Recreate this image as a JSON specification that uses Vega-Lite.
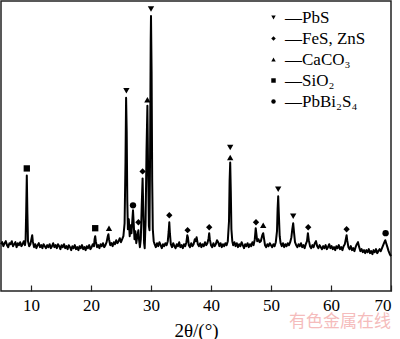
{
  "$schema": "https://vega.github.io/schema/vega-lite/v6.json",
  "width": 390,
  "height": 290,
  "autosize": "none",
  "padding": {"left": 1, "top": 1, "right": 9, "bottom": 48},
  "background": "white",
  "config": {
    "view": {"stroke": "#222", "strokeWidth": 1.5},
    "font": "Liberation Serif",
    "axis": {"labelFont": "Liberation Serif", "titleFont": "Liberation Serif"}
  },
  "datasets": {
    "xrd": [
      {"t":5.0,"i":47},{"t":5.2,"i":49},{"t":5.4,"i":45},{"t":5.6,"i":48},{"t":5.8,"i":50},{"t":6.0,"i":46},{"t":6.2,"i":44},{"t":6.4,"i":48},{"t":6.6,"i":47},{"t":6.8,"i":50},
      {"t":7.0,"i":45},{"t":7.2,"i":47},{"t":7.4,"i":49},{"t":7.6,"i":44},{"t":7.8,"i":48},{"t":8.0,"i":46},{"t":8.2,"i":49},{"t":8.4,"i":45},{"t":8.6,"i":47},{"t":8.8,"i":50},
      {"t":9.0,"i":46},{"t":9.1,"i":51},{"t":9.2,"i":80},{"t":9.3,"i":116},{"t":9.4,"i":78},{"t":9.5,"i":50},{"t":9.7,"i":45},{"t":9.9,"i":47},{"t":10.1,"i":53},{"t":10.2,"i":56},
      {"t":10.3,"i":50},{"t":10.5,"i":44},{"t":10.7,"i":47},{"t":10.9,"i":43},{"t":11.1,"i":46},{"t":11.3,"i":48},{"t":11.5,"i":44},{"t":11.7,"i":46},{"t":11.9,"i":43},{"t":12.1,"i":47},
      {"t":12.3,"i":45},{"t":12.5,"i":43},{"t":12.7,"i":46},{"t":12.9,"i":44},{"t":13.1,"i":47},{"t":13.3,"i":43},{"t":13.5,"i":45},{"t":13.7,"i":48},{"t":13.9,"i":44},{"t":14.1,"i":46},
      {"t":14.3,"i":43},{"t":14.5,"i":47},{"t":14.7,"i":45},{"t":14.9,"i":42},{"t":15.1,"i":46},{"t":15.3,"i":44},{"t":15.5,"i":47},{"t":15.7,"i":43},{"t":15.9,"i":45},{"t":16.1,"i":42},
      {"t":16.3,"i":46},{"t":16.5,"i":44},{"t":16.7,"i":41},{"t":16.9,"i":45},{"t":17.1,"i":43},{"t":17.3,"i":46},{"t":17.5,"i":42},{"t":17.7,"i":44},{"t":17.9,"i":41},{"t":18.1,"i":45},
      {"t":18.3,"i":43},{"t":18.5,"i":46},{"t":18.7,"i":42},{"t":18.9,"i":44},{"t":19.1,"i":41},{"t":19.3,"i":45},{"t":19.5,"i":43},{"t":19.7,"i":46},{"t":19.9,"i":42},{"t":20.1,"i":44},
      {"t":20.3,"i":47},{"t":20.5,"i":45},{"t":20.6,"i":52},{"t":20.7,"i":55},{"t":20.8,"i":50},{"t":21.0,"i":44},{"t":21.2,"i":46},{"t":21.4,"i":43},{"t":21.6,"i":47},{"t":21.8,"i":45},
      {"t":22.0,"i":48},{"t":22.2,"i":44},{"t":22.4,"i":46},{"t":22.6,"i":49},{"t":22.8,"i":55},{"t":22.9,"i":57},{"t":23.0,"i":52},{"t":23.2,"i":46},{"t":23.4,"i":48},{"t":23.6,"i":45},
      {"t":23.8,"i":49},{"t":24.0,"i":47},{"t":24.2,"i":51},{"t":24.4,"i":48},{"t":24.6,"i":50},{"t":24.8,"i":53},{"t":25.0,"i":49},{"t":25.2,"i":52},{"t":25.4,"i":55},{"t":25.6,"i":68},
      {"t":25.75,"i":130},{"t":25.85,"i":194},{"t":25.95,"i":160},{"t":26.05,"i":90},{"t":26.15,"i":62},{"t":26.3,"i":72},{"t":26.45,"i":55},{"t":26.6,"i":66},{"t":26.75,"i":58},{"t":26.9,"i":72},
      {"t":27.0,"i":81},{"t":27.1,"i":70},{"t":27.25,"i":52},{"t":27.4,"i":60},{"t":27.55,"i":48},{"t":27.75,"i":56},{"t":27.9,"i":61},{"t":28.0,"i":52},{"t":28.15,"i":44},{"t":28.3,"i":52},
      {"t":28.45,"i":85},{"t":28.6,"i":113},{"t":28.7,"i":85},{"t":28.85,"i":48},{"t":28.95,"i":43},{"t":29.1,"i":70},{"t":29.25,"i":140},{"t":29.4,"i":186},{"t":29.5,"i":130},{"t":29.65,"i":65},
      {"t":29.75,"i":61},{"t":29.85,"i":140},{"t":29.95,"i":250},{"t":30.0,"i":276},{"t":30.1,"i":220},{"t":30.2,"i":110},{"t":30.3,"i":62},{"t":30.45,"i":50},{"t":30.6,"i":47},{"t":30.8,"i":44},
      {"t":31.0,"i":48},{"t":31.2,"i":45},{"t":31.4,"i":49},{"t":31.6,"i":46},{"t":31.8,"i":43},{"t":32.0,"i":47},{"t":32.2,"i":45},{"t":32.4,"i":48},{"t":32.6,"i":46},{"t":32.8,"i":50},
      {"t":32.95,"i":60},{"t":33.05,"i":69},{"t":33.15,"i":58},{"t":33.3,"i":47},{"t":33.5,"i":44},{"t":33.7,"i":48},{"t":33.9,"i":45},{"t":34.1,"i":43},{"t":34.3,"i":47},{"t":34.5,"i":45},
      {"t":34.7,"i":49},{"t":34.9,"i":44},{"t":35.1,"i":46},{"t":35.3,"i":43},{"t":35.5,"i":47},{"t":35.7,"i":45},{"t":35.9,"i":49},{"t":36.05,"i":56},{"t":36.15,"i":54},{"t":36.3,"i":46},
      {"t":36.5,"i":44},{"t":36.7,"i":48},{"t":36.9,"i":45},{"t":37.1,"i":47},{"t":37.3,"i":52},{"t":37.45,"i":50},{"t":37.6,"i":54},{"t":37.8,"i":47},{"t":38.0,"i":45},{"t":38.2,"i":48},
      {"t":38.4,"i":44},{"t":38.6,"i":47},{"t":38.8,"i":45},{"t":39.0,"i":49},{"t":39.2,"i":46},{"t":39.4,"i":48},{"t":39.6,"i":53},{"t":39.7,"i":58},{"t":39.8,"i":52},{"t":40.0,"i":46},
      {"t":40.2,"i":44},{"t":40.4,"i":48},{"t":40.6,"i":45},{"t":40.8,"i":47},{"t":41.0,"i":51},{"t":41.2,"i":49},{"t":41.4,"i":45},{"t":41.6,"i":48},{"t":41.8,"i":44},{"t":42.0,"i":47},
      {"t":42.2,"i":45},{"t":42.4,"i":48},{"t":42.6,"i":46},{"t":42.8,"i":50},{"t":43.0,"i":70},{"t":43.1,"i":110},{"t":43.2,"i":129},{"t":43.3,"i":100},{"t":43.4,"i":62},{"t":43.55,"i":50},
      {"t":43.7,"i":46},{"t":43.9,"i":49},{"t":44.1,"i":45},{"t":44.3,"i":48},{"t":44.5,"i":44},{"t":44.7,"i":47},{"t":44.9,"i":45},{"t":45.1,"i":49},{"t":45.3,"i":46},{"t":45.5,"i":43},
      {"t":45.7,"i":47},{"t":45.9,"i":45},{"t":46.1,"i":48},{"t":46.3,"i":44},{"t":46.5,"i":47},{"t":46.7,"i":45},{"t":46.9,"i":49},{"t":47.1,"i":46},{"t":47.3,"i":52},{"t":47.45,"i":63},
      {"t":47.55,"i":58},{"t":47.7,"i":50},{"t":47.9,"i":52},{"t":48.1,"i":49},{"t":48.3,"i":50},{"t":48.55,"i":56},{"t":48.7,"i":58},{"t":48.85,"i":52},{"t":49.0,"i":46},{"t":49.2,"i":44},
      {"t":49.4,"i":47},{"t":49.6,"i":45},{"t":49.8,"i":48},{"t":50.0,"i":46},{"t":50.2,"i":44},{"t":50.4,"i":47},{"t":50.6,"i":45},{"t":50.8,"i":49},{"t":51.0,"i":60},{"t":51.1,"i":82},
      {"t":51.2,"i":95},{"t":51.3,"i":78},{"t":51.45,"i":55},{"t":51.6,"i":48},{"t":51.8,"i":45},{"t":52.0,"i":48},{"t":52.2,"i":44},{"t":52.4,"i":47},{"t":52.6,"i":45},{"t":52.8,"i":48},
      {"t":53.0,"i":46},{"t":53.2,"i":49},{"t":53.4,"i":54},{"t":53.55,"i":62},{"t":53.7,"i":68},{"t":53.85,"i":58},{"t":54.0,"i":49},{"t":54.2,"i":46},{"t":54.4,"i":44},{"t":54.6,"i":47},
      {"t":54.8,"i":45},{"t":55.0,"i":48},{"t":55.2,"i":44},{"t":55.4,"i":46},{"t":55.6,"i":43},{"t":55.8,"i":47},{"t":56.0,"i":50},{"t":56.15,"i":58},{"t":56.3,"i":51},{"t":56.5,"i":45},
      {"t":56.7,"i":43},{"t":56.9,"i":46},{"t":57.1,"i":44},{"t":57.3,"i":48},{"t":57.5,"i":50},{"t":57.7,"i":45},{"t":57.9,"i":43},{"t":58.1,"i":46},{"t":58.3,"i":44},{"t":58.5,"i":42},
      {"t":58.7,"i":45},{"t":58.9,"i":43},{"t":59.1,"i":46},{"t":59.3,"i":42},{"t":59.5,"i":44},{"t":59.7,"i":47},{"t":59.9,"i":43},{"t":60.1,"i":45},{"t":60.3,"i":42},{"t":60.5,"i":44},
      {"t":60.7,"i":41},{"t":60.9,"i":45},{"t":61.1,"i":43},{"t":61.3,"i":46},{"t":61.5,"i":42},{"t":61.7,"i":44},{"t":61.9,"i":41},{"t":62.1,"i":45},{"t":62.3,"i":47},{"t":62.5,"i":53},
      {"t":62.6,"i":56},{"t":62.7,"i":51},{"t":62.9,"i":44},{"t":63.1,"i":42},{"t":63.3,"i":45},{"t":63.5,"i":41},{"t":63.7,"i":43},{"t":63.9,"i":40},{"t":64.1,"i":44},{"t":64.3,"i":47},
      {"t":64.5,"i":49},{"t":64.7,"i":44},{"t":64.9,"i":40},{"t":65.1,"i":42},{"t":65.3,"i":39},{"t":65.5,"i":41},{"t":65.7,"i":38},{"t":65.9,"i":41},{"t":66.1,"i":39},{"t":66.3,"i":42},
      {"t":66.5,"i":38},{"t":66.7,"i":40},{"t":66.9,"i":37},{"t":67.1,"i":41},{"t":67.3,"i":39},{"t":67.5,"i":42},{"t":67.7,"i":38},{"t":67.9,"i":40},{"t":68.1,"i":42},{"t":68.3,"i":40},
      {"t":68.5,"i":43},{"t":68.7,"i":46},{"t":68.9,"i":49},{"t":69.05,"i":51},{"t":69.2,"i":48},{"t":69.4,"i":44},{"t":69.6,"i":40},{"t":69.8,"i":37},{"t":70.0,"i":35}
    ],
    "marks": [
      {"t":9.3,"i":123,"phase":"SiO₂"},
      {"t":20.7,"i":63,"phase":"SiO₂"},
      {"t":23.0,"i":63,"phase":"CaCO₃"},
      {"t":25.9,"i":201,"phase":"PbS"},
      {"t":27.0,"i":86,"phase":"PbBi₂S₄"},
      {"t":27.9,"i":69,"phase":"FeS, ZnS"},
      {"t":28.6,"i":120,"phase":"FeS, ZnS"},
      {"t":29.4,"i":192,"phase":"CaCO₃"},
      {"t":30.0,"i":283,"phase":"PbS"},
      {"t":33.05,"i":76,"phase":"FeS, ZnS"},
      {"t":36.1,"i":61,"phase":"FeS, ZnS"},
      {"t":39.7,"i":64,"phase":"FeS, ZnS"},
      {"t":43.2,"i":134,"phase":"CaCO₃"},
      {"t":43.2,"i":144,"phase":"PbS"},
      {"t":47.5,"i":69,"phase":"FeS, ZnS"},
      {"t":48.7,"i":66,"phase":"CaCO₃"},
      {"t":51.2,"i":102,"phase":"PbS"},
      {"t":53.7,"i":75,"phase":"PbS"},
      {"t":56.2,"i":64,"phase":"FeS, ZnS"},
      {"t":62.6,"i":62,"phase":"FeS, ZnS"},
      {"t":69.1,"i":58,"phase":"PbBi₂S₄"}
    ]
  },
  "layer": [
    {
      "data": {"name": "xrd"},
      "mark": {"type": "line", "color": "black", "strokeWidth": 2, "strokeJoin": "round"},
      "encoding": {
        "x": {
          "field": "t", "type": "quantitative",
          "scale": {"domain": [5, 70], "nice": false, "zero": false},
          "axis": {
            "title": "2θ/(°)", "values": [10, 20, 30, 40, 50, 60, 70],
            "grid": false, "domain": false, "tickSize": -6, "tickColor": "#222", "tickWidth": 1.2,
            "labelFont": "Liberation Serif", "labelFontSize": 17, "labelColor": "black", "labelPadding": 12,
            "titleFont": "Liberation Serif", "titleFontSize": 19, "titleFontWeight": "normal", "titleColor": "black", "titlePadding": 8
          }
        },
        "y": {
          "field": "i", "type": "quantitative",
          "scale": {"domain": [0, 291], "nice": false},
          "axis": null
        }
      }
    },
    {
      "data": {"name": "marks"},
      "mark": {"type": "point", "filled": true, "opacity": 1, "color": "black", "size": 40},
      "encoding": {
        "x": {"field": "t", "type": "quantitative"},
        "y": {"field": "i", "type": "quantitative"},
        "shape": {
          "field": "phase", "type": "nominal",
          "scale": {
            "domain": ["PbS", "FeS, ZnS", "CaCO₃", "SiO₂", "PbBi₂S₄"],
            "range": ["triangle-down", "diamond", "triangle-up", "square", "circle"]
          },
          "legend": {
            "orient": "none", "legendX": 264, "legendY": 8, "title": null,
            "symbolSize": 20, "symbolFillColor": "black", "symbolStrokeColor": "black",
            "labelExpr": "'—' + datum.label",
            "labelFont": "Liberation Serif", "labelFontSize": 17, "labelColor": "black",
            "labelOffset": 3, "rowPadding": 3, "padding": 0
          }
        }
      }
    },
    {
      "data": {"values": [{"t": 61.5, "i": -31, "w": "有色金属在线"}]},
      "mark": {"type": "text", "color": "#f5bcbc", "font": "Noto Sans CJK SC", "fontSize": 17, "align": "center", "baseline": "middle"},
      "encoding": {
        "x": {"field": "t", "type": "quantitative"},
        "y": {"field": "i", "type": "quantitative"},
        "text": {"field": "w"}
      }
    }
  ]
}
